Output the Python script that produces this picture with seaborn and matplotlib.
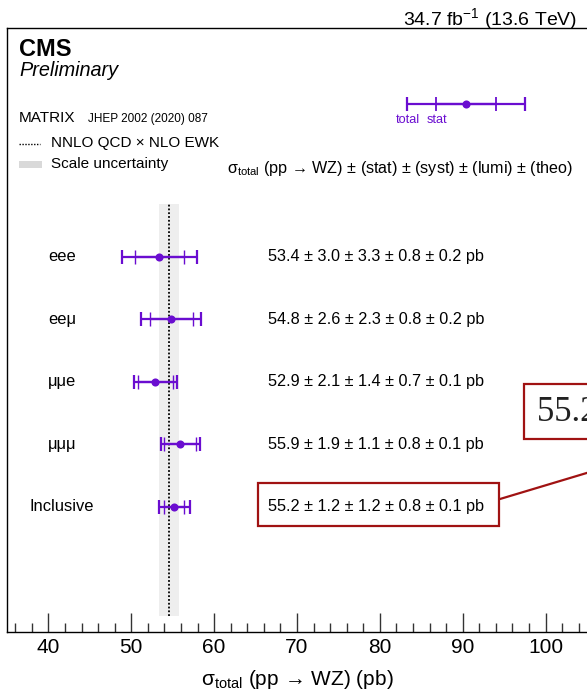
import numpy as np
import pandas as pd
import matplotlib
matplotlib.use('Agg')
import matplotlib.pyplot as plt
import matplotlib.transforms as mtransforms
from matplotlib.patches import Rectangle
from matplotlib.lines import Line2D
from matplotlib.ticker import MultipleLocator
import seaborn as sns

# ---------------- data ----------------
channels = ['eee', 'eeμ', 'μμe', 'μμμ', 'Inclusive']
xsec = [53.4, 54.8, 52.9, 55.9, 55.2]
stat = [3.0, 2.6, 2.1, 1.9, 1.2]
syst = [3.3, 2.3, 1.4, 1.1, 1.2]
lumi = [0.8, 0.8, 0.7, 0.8, 0.8]
theo = [0.2, 0.2, 0.1, 0.1, 0.1]
theory_central = 54.5
theory_band = [53.4, 55.7]
xticks_major = [40, 50, 60, 70, 80, 90, 100]

# ---------------- style ----------------
sns.set_theme(style='ticks')
plt.rcParams['font.family'] = ['Liberation Sans', 'DejaVu Sans']
plt.rcParams['mathtext.fontset'] = 'custom'
plt.rcParams['mathtext.rm'] = 'Liberation Sans'
plt.rcParams['mathtext.it'] = 'Liberation Sans:italic'
plt.rcParams['mathtext.bf'] = 'Liberation Sans:bold'
plt.rcParams['mathtext.default'] = 'regular'
plt.rcParams['text.color'] = 'black'
plt.rcParams['axes.labelcolor'] = 'black'
plt.rcParams['xtick.color'] = 'black'

PURPLE = '#6a0dd0'
RED = '#a01212'

df = pd.DataFrame(dict(channel=channels, xsec=xsec, stat=stat, syst=syst,
                       lumi=lumi, theo=theo))
df['total'] = np.sqrt(df.stat**2 + df.syst**2 + df.lumi**2 + df.theo**2)
df['y'] = np.arange(len(df))[::-1]

W, H = 587, 695
fig = plt.figure(figsize=(W / 100, H / 100), dpi=100)


def fx(x):
    return x / W


def fy(y):
    return 1 - y / H


ax = fig.add_axes([fx(7), fy(632), 1 - fx(7), fy(28) - fy(632)])
ax.set_xlim(35, 105)
ax.set_ylim(-2, 7.66)

# theory band + central line
ax.fill_betweenx([-1.75, 4.85], theory_band[0], theory_band[1],
                 color='#eeeeee', lw=0, zorder=0)
ax.plot([theory_central, theory_central], [-1.75, 4.85], ls=(0, (1, 1.1)),
        color='black', lw=1.3, zorder=1)

# error bars
ax.errorbar(df.xsec, df.y, xerr=df.total, fmt='none', ecolor=PURPLE,
            elinewidth=1.6, capsize=4.7, capthick=1.6, zorder=3)
ax.errorbar(df.xsec, df.y, xerr=df.stat, fmt='none', ecolor=PURPLE,
            elinewidth=1.6, capsize=4.7, capthick=1.0, zorder=3)
sns.scatterplot(data=df, x='xsec', y='y', color=PURPLE, s=34, linewidth=0,
                zorder=5, ax=ax, legend=False)

# row labels and values
blend = mtransforms.blended_transform_factory(fig.transFigure, ax.transData)
for _, r in df.iterrows():
    ax.text(fx(62), r.y, r.channel, transform=blend, ha='center', va='center',
            fontsize=11.9, color='black')
    txt = f"{r.xsec:.1f} ± {r.stat:.1f} ± {r.syst:.1f} ± {r.lumi:.1f} ± {r.theo:.1f} pb"
    ax.text(fx(268), r.y, txt, transform=blend, ha='left', va='center',
            fontsize=11.7, color='black')

# legend sample (total / stat) in top right
ly = 6.44
ax.errorbar([90.36], [ly], xerr=[7.1], fmt='none', ecolor=PURPLE,
            elinewidth=1.6, capsize=4.7, capthick=1.6)
ax.errorbar([90.36], [ly], xerr=[3.6], fmt='none', ecolor=PURPLE,
            elinewidth=1.6, capsize=4.7, capthick=1.3)
ax.scatter([90.36], [ly], color=PURPLE, s=34, lw=0, zorder=5)
fig.text(fx(408), fy(120), 'total', ha='center', va='center', fontsize=9.2, color=PURPLE)
fig.text(fx(437), fy(120), 'stat', ha='center', va='center', fontsize=9.2, color=PURPLE)

fig.text(fx(227), fy(173), r'$\sigma_{total}$ (pp → WZ) ± (stat) ± (syst) ± (lumi) ± (theo)',
         ha='left', va='baseline', fontsize=11.6)

# axes styling
ax.set_yticks([])
ax.set_ylabel('')
ax.set_xticks(xticks_major)
ax.xaxis.set_minor_locator(MultipleLocator(2))
ax.tick_params(axis='x', which='major', direction='in', length=13.7, width=1.0,
               color='#333333', labelcolor='black', labelsize=15, pad=4, top=False)
ax.tick_params(axis='x', which='minor', direction='in', length=6.5, width=1.0,
               color='#333333', top=False)
for s in ['top', 'left', 'bottom']:
    ax.spines[s].set_color('black')
    ax.spines[s].set_linewidth(1.0)
ax.spines['right'].set_visible(False)
ax.set_xlabel(r'$\sigma_{total}$ (pp → WZ) (pb)', fontsize=15, labelpad=8)

# header texts
fig.text(fx(577), fy(25), r'34.7 fb$^{-1}$ (13.6 TeV)', ha='right', va='baseline', fontsize=14)
fig.text(fx(19), fy(56), 'CMS', ha='left', va='baseline', fontsize=17, fontweight='bold')
fig.text(fx(19), fy(70), 'Preliminary', ha='left', va='center', fontsize=14.3, style='italic')
fig.text(fx(19), fy(118), 'MATRIX', ha='left', va='center', fontsize=11)
fig.text(fx(88), fy(119), 'JHEP 2002 (2020) 087', ha='left', va='center', fontsize=8.5)
fig.add_artist(Line2D([fx(19), fx(40)], [fy(144), fy(144)], ls=(0, (1, 1.1)),
                      color='black', lw=1.0, transform=fig.transFigure))
fig.text(fx(51), fy(143), 'NNLO QCD × NLO EWK', ha='left', va='center', fontsize=11)
fig.add_artist(Rectangle((fx(19), fy(168.3)), fx(23), fy(160.7) - fy(168.3),
                         color='#d9d9d9', lw=0, transform=fig.transFigure))
fig.text(fx(51), fy(164), 'Scale uncertainty', ha='left', va='center', fontsize=11)

# highlight boxes
fig.add_artist(Rectangle((fx(258), fy(525.7)), fx(499 - 258), fy(482.7) - fy(525.7),
                         fill=False, ec=RED, lw=1.6, transform=fig.transFigure))
fig.add_artist(Rectangle((fx(524), fy(439)), fx(260), fy(384) - fy(439),
                         fill='white', fc='white', ec=RED, lw=1.6, transform=fig.transFigure))
fig.add_artist(Line2D([fx(500), fx(700)], [fy(499), fy(439)], color=RED, lw=1.6,
                      transform=fig.transFigure))
fig.text(fx(537), fy(412), '55.2 ± 1.2 ± 1.2 ± 0.8 ± 0.1 pb', ha='left', va='center',
         fontsize=25, family='Liberation Serif', color='#222222')

fig.savefig('out.png', dpi=100)
